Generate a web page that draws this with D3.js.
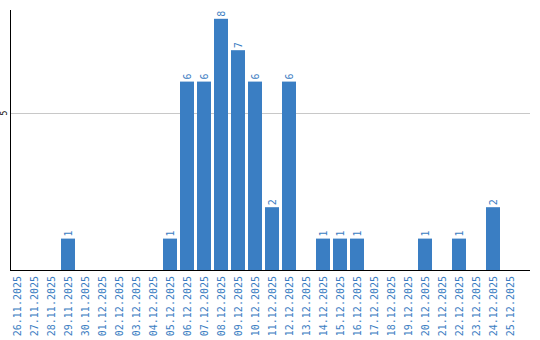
<!DOCTYPE html>
<html>
<head>
<meta charset="utf-8">
<script src="https://cdn.jsdelivr.net/npm/d3@7"></script>
<style>
  body { margin: 0; background: #fff; }
  svg { display: block; }
  .etiqueta { font-family: "DejaVu Sans Mono", monospace; font-size: 10px; fill: #3a7dc2; }
</style>
</head>
<body>
<div id="grafico"></div>
<script>
const fechas = [
  "26.11.2025", "27.11.2025", "28.11.2025", "29.11.2025", "30.11.2025",
  "01.12.2025", "02.12.2025", "03.12.2025", "04.12.2025", "05.12.2025",
  "06.12.2025", "07.12.2025", "08.12.2025", "09.12.2025", "10.12.2025",
  "11.12.2025", "12.12.2025", "13.12.2025", "14.12.2025", "15.12.2025",
  "16.12.2025", "17.12.2025", "18.12.2025", "19.12.2025", "20.12.2025",
  "21.12.2025", "22.12.2025", "23.12.2025", "24.12.2025", "25.12.2025"
];
const valores = [0, 0, 0, 1, 0, 0, 0, 0, 0, 1, 6, 6, 8, 7, 6, 2, 6, 0, 1, 1, 1, 0, 0, 0, 1, 0, 1, 0, 2, 0];
const marcasY = [5];

const width = 540;
const height = 340;
const izq = 10, der = 530, arriba = 10, base = 270;
const colorBarra = "#3a7ec3";

const svg = d3.select("#grafico")
  .append("svg")
  .attr("width", width)
  .attr("height", height);

const x = d3.scaleBand()
  .domain(fechas)
  .range([izq, izq + 507])
  .paddingInner(3 / 17)
  .paddingOuter(0);

const y = d3.scaleLinear()
  .domain([0, 8.28])
  .range([base, arriba]);

// cuadricula
svg.append("g")
  .selectAll("line")
  .data(marcasY)
  .enter()
  .append("line")
  .attr("x1", izq)
  .attr("x2", der)
  .attr("y1", (d) => Math.round(y(d)) + 0.5)
  .attr("y2", (d) => Math.round(y(d)) + 0.5)
  .attr("stroke", "#c8c8c8");

svg.append("g")
  .selectAll("text")
  .data(marcasY)
  .enter()
  .append("text")
  .attr("transform", (d) => `translate(7,${y(d)}) rotate(-90)`)
  .attr("text-anchor", "middle")
  .style("font-family", "DejaVu Sans Mono, monospace")
  .style("font-size", "8px")
  .attr("fill", "#000")
  .text((d) => d);

const datos = fechas
  .map((f, i) => ({ fecha: f, valor: valores[i] }))
  .filter((d) => d.valor > 0);

// barras
svg.append("g")
  .selectAll("rect")
  .data(datos)
  .enter()
  .append("rect")
  .attr("x", (d) => x(d.fecha))
  .attr("width", x.bandwidth())
  .attr("y", (d) => y(d.valor))
  .attr("height", (d) => base - y(d.valor))
  .attr("fill", colorBarra);

// valores sobre las barras
svg.append("g")
  .selectAll("text")
  .data(datos)
  .enter()
  .append("text")
  .attr("class", "etiqueta")
  .attr("transform", (d) => `translate(${x(d.fecha) + x.bandwidth() / 2 + 3.5},${y(d.valor) - 2}) rotate(-90)`)
  .attr("text-anchor", "start")
  .text((d) => d.valor);

// ejes
svg.append("line")
  .attr("x1", izq + 0.5).attr("x2", izq + 0.5)
  .attr("y1", arriba).attr("y2", base + 1)
  .attr("stroke", "#000");

svg.append("line")
  .attr("x1", izq).attr("x2", der)
  .attr("y1", base + 0.5).attr("y2", base + 0.5)
  .attr("stroke", "#000");

// fechas
svg.append("g")
  .selectAll("text")
  .data(fechas)
  .enter()
  .append("text")
  .attr("class", "etiqueta")
  .attr("transform", (d) => `translate(${x(d) + x.bandwidth() / 2 + 3.5},${base + 6}) rotate(-90)`)
  .attr("text-anchor", "end")
  .text((d) => d);
</script>
</body>
</html>
